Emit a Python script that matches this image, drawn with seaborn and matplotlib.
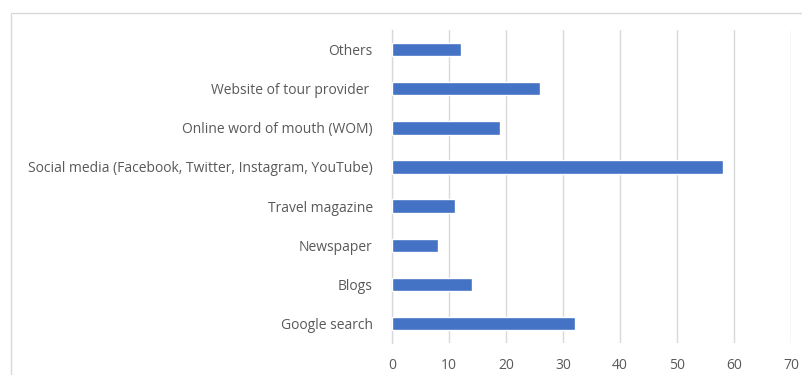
import matplotlib
matplotlib.use("Agg")
import matplotlib.pyplot as plt
from matplotlib.patches import Rectangle
import pandas as pd
import seaborn as sns

categories = [
    "Others",
    "Website of tour provider ",
    "Online word of mouth (WOM)",
    "Social media (Facebook, Twitter, Instagram, YouTube)",
    "Travel magazine",
    "Newspaper",
    "Blogs",
    "Google search",
]
values = [12, 26, 19, 58, 11, 8, 14, 32]
x_ticks = [0, 10, 20, 30, 40, 50, 60, 70]

BAR_COLOR = "#4472C4"
TEXT_COLOR = "#595959"
GRID_COLOR = "#D9D9D9"

sns.set_theme(style="white")
plt.rcParams["font.family"] = ["Open Sans", "DejaVu Sans"]

df = pd.DataFrame({"source": categories, "share": values})

fig = plt.figure(figsize=(8.02, 3.75), dpi=100)
ax = fig.add_axes([0.489, 0.085, 0.4975, 0.835])

sns.barplot(data=df, x="share", y="source", color=BAR_COLOR, width=0.34,
            saturation=1, ax=ax, zorder=3)

ax.set_xlim(0, 70)
ax.set_xticks(x_ticks)
ax.set_xlabel("")
ax.set_ylabel("")
ax.grid(axis="x", color=GRID_COLOR, linewidth=1, zorder=0)
ax.grid(axis="y", visible=False)
for side in ["top", "right", "bottom"]:
    ax.spines[side].set_visible(False)
ax.spines["left"].set_color(GRID_COLOR)
ax.spines["left"].set_linewidth(1)
ax.tick_params(axis="x", length=0, pad=11, labelsize=10, labelcolor=TEXT_COLOR)
ax.tick_params(axis="y", length=0, pad=14, labelsize=10, labelcolor=TEXT_COLOR)

# outer chart border (cropped at right/bottom in the original)
fig.patches.append(Rectangle((11 / 802, -0.1), 1.1, 1 - 13 / 375 + 0.1,
                             transform=fig.transFigure, fill=False,
                             edgecolor=GRID_COLOR, linewidth=1))

fig.savefig("out.png", dpi=100)
